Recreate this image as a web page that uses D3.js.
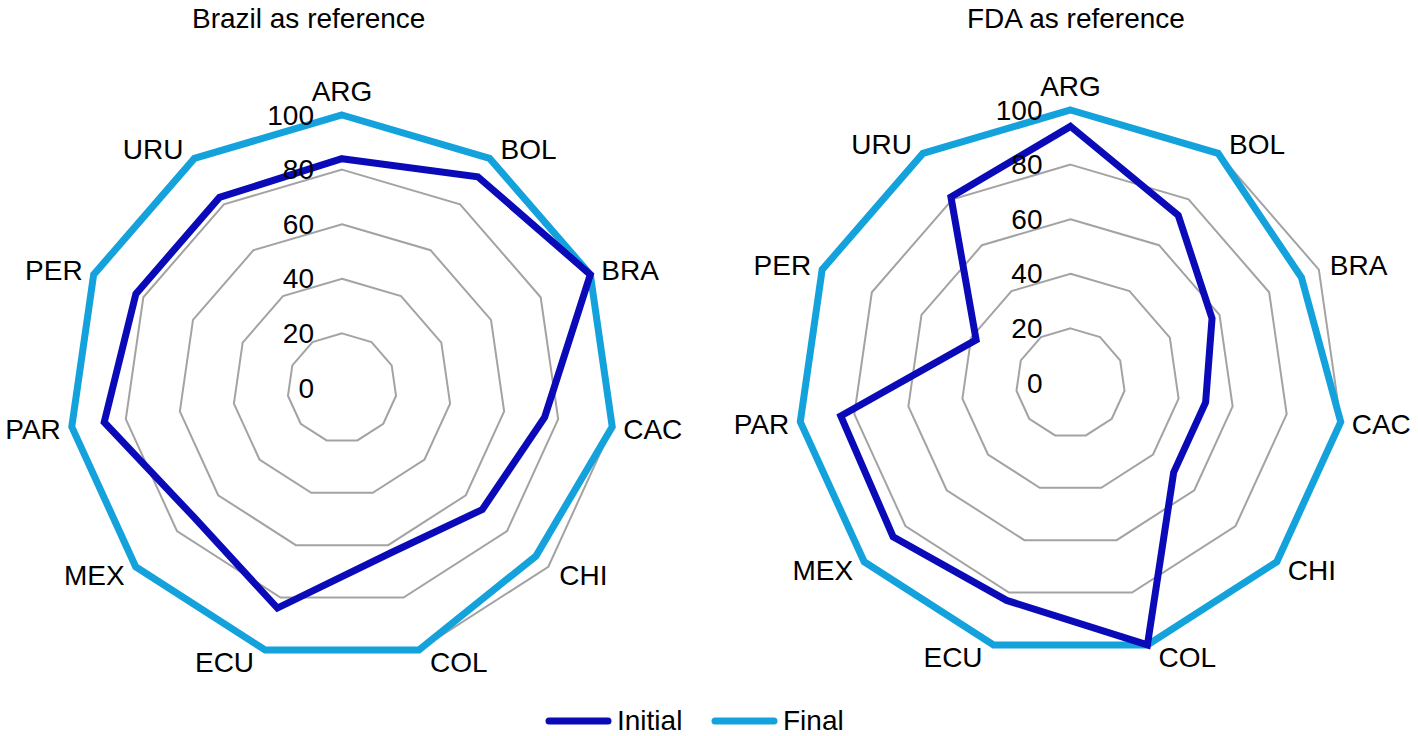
<!DOCTYPE html>
<html>
<head>
<meta charset="utf-8">
<script src="https://cdn.jsdelivr.net/npm/d3@7"></script>
<style>
  body { margin: 0; background: #fff; }
  svg { display: block; font-family: "Liberation Sans", Arial, sans-serif; }
</style>
</head>
<body>
<svg class="main-canvas" width="1418" height="736"></svg>
<script>
"use strict";

const categories = ["ARG", "BOL", "BRA", "CAC", "CHI", "COL", "ECU", "MEX", "PAR", "PER", "URU"];
const ticks = [0, 20, 40, 60, 80, 100];

const brazilInitial = [84, 92, 100, 75, 68, 63, 84, 72, 88, 83, 83];
const brazilFinal = [100, 100, 100, 100, 94, 100, 100, 100, 100, 100, 100];
const fdaInitial = [94, 73, 57, 50, 50, 100, 83, 86, 85, 38, 81];
const fdaFinal = [100, 100, 93, 100, 100, 100, 100, 100, 100, 100, 100];

const seriesNames = ["Initial", "Final"];
const colors = { Initial: "#0a0ab8", Final: "#14a2dc" };

let svg = d3.select('.main-canvas');
const R = 273;
const fontSize = 28;
const r = d3.scaleLinear().domain([0, 100]).range([0, R]);
const angle = d3.scalePoint()
                .domain(categories.concat(["_end"]))  // so the last category is not at 2*PI
                .range([0, 2 * Math.PI]);

// Polygon path for a list of values
const radial = d3.lineRadial()
                 .curve(d3.curveLinearClosed)
                 .angle((d, i) => angle(categories[i]))
                 .radius(d => r(d));

function drawRadar(cx, cy, title, titleX, initial, final) {
  let g = svg.append('g').attr('transform', `translate(${cx}, ${cy})`);

  // Grid rings (no ring at 0)
  g.append('g')
   .selectAll('path')
   .data(ticks.filter(t => t > 0))
   .enter()
   .append('path')
   .attr('d', t => radial(categories.map(() => t)))
   .attr('fill', 'none')
   .attr('stroke', '#a3a3a3')
   .attr('stroke-width', 2);

  // Series, Final under Initial
  let data = { Initial: initial, Final: final };
  for (let name of ["Final", "Initial"]) {
    g.append('path')
     .attr('d', radial(data[name]))
     .attr('fill', 'none')
     .attr('stroke', colors[name])
     .attr('stroke-width', 7)
     .attr('stroke-linejoin', 'miter');
  }

  // Value labels along the top axis
  g.append('g')
   .selectAll('text')
   .data(ticks)
   .enter()
   .append('text')
   .text(t => t)
   .attr('x', -28)
   .attr('y', t => -r(t))
   .attr('text-anchor', 'end')
   .attr('dominant-baseline', 'central')
   .attr('font-size', fontSize)
   .attr('fill', '#000');

  // Category labels
  g.append('g')
   .selectAll('text')
   .data(categories)
   .enter()
   .append('text')
   .text(d => d)
   .each(function (d) {
     let a = angle(d);
     let s = Math.sin(a), c = Math.cos(a);
     let vx = R * s, vy = -R * c;
     let t = d3.select(this);
     if (Math.abs(s) < 0.1) {
       t.attr('x', vx).attr('y', vy - 14).attr('text-anchor', 'middle');
     } else {
       t.attr('x', vx + 11 * Math.sign(s))
        .attr('y', vy - 12 * c + 1)
        .attr('text-anchor', s > 0 ? 'start' : 'end')
        .attr('dominant-baseline', 'central');
     }
   })
   .attr('font-size', fontSize)
   .attr('fill', '#000');

  svg.append('text')
     .text(title)
     .attr('x', titleX)
     .attr('y', 28)
     .attr('font-size', fontSize)
     .attr('fill', '#000');
}

drawRadar(342, 388, "Brazil as reference", 192, brazilInitial, brazilFinal);
drawRadar(1070.5, 383, "FDA as reference", 967, fdaInitial, fdaFinal);

// Legend
let legend = svg.append('g')
                .selectAll('g')
                .data(seriesNames)
                .enter()
                .append('g')
                .attr('transform', (d, i) => `translate(${i === 0 ? 549 : 715}, 721)`);
legend.append('line')
      .attr('x1', 0)
      .attr('x2', 59)
      .attr('stroke', d => colors[d])
      .attr('stroke-width', 7)
      .attr('stroke-linecap', 'round');
legend.append('text')
      .text(d => d)
      .attr('x', 68)
      .attr('y', 9)
      .attr('font-size', fontSize)
      .attr('fill', '#000');
</script>
</body>
</html>
